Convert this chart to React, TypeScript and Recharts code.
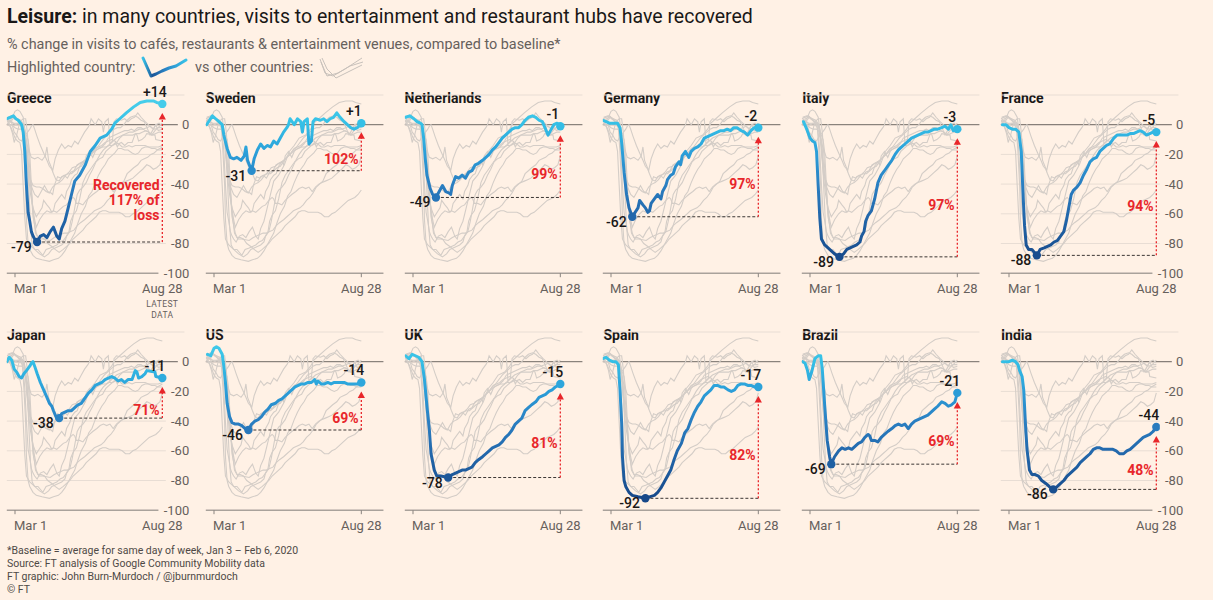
import React from 'react';
import { LineChart, Line, XAxis, YAxis, CartesianGrid, ReferenceLine, ReferenceDot } from 'recharts';

// ---------------- DATA ----------------
// day offsets from Mar 1, 2020; values = % change vs baseline
const greece: [number, number][] = [[-10,4],[-6,5],[-2,6],[1,4],[4,3],[8,0],[10,-5],[12,-18],[14,-41],[16,-59],[18,-65],[20,-72],[22,-75],[24,-77],[27,-79],[31,-75],[35,-74],[39,-76],[43,-72],[47,-69],[49,-72],[51,-75],[54,-77],[57,-70],[61,-65],[65,-56],[69,-47],[73,-38],[79,-34],[86,-27],[92,-18],[98,-14],[104,-9],[112,-7],[118,-3],[122,1],[128,4],[136,8],[145,12],[153,15],[161,16],[169,16],[173,15],[180,14]];
const sweden: [number, number][] = [[-9,0],[-2,6],[2,4],[6,2],[10,0],[12,-7],[16,-16],[20,-22],[24,-23],[28,-22],[33,-24],[37,-21],[39,-15],[41,-24],[46,-31],[49,-23],[53,-17],[57,-13],[61,-16],[65,-14],[69,-15],[73,-11],[77,-13],[81,-9],[85,-5],[89,-2],[91,0],[93,4],[98,0],[102,4],[106,2],[108,-5],[110,2],[114,4],[116,-13],[119,-11],[121,2],[124,4],[130,3],[134,4],[138,2],[142,4],[146,5],[150,8],[154,5],[159,2],[163,0],[167,-2],[171,-3],[175,-2],[180,1]];
const netherlands: [number, number][] = [[-9,5],[-4,6],[1,4],[5,2],[9,1],[11,0],[13,-9],[15,-23],[17,-34],[21,-43],[24,-47],[28,-49],[32,-45],[36,-41],[40,-45],[44,-46],[46,-47],[48,-41],[52,-35],[56,-36],[60,-34],[64,-36],[68,-32],[72,-31],[76,-27],[80,-26],[85,-24],[89,-22],[93,-20],[97,-17],[101,-15],[105,-12],[109,-9],[113,-7],[117,-5],[121,-3],[125,-2],[129,-2],[133,0],[137,3],[141,5],[146,6],[150,5],[154,3],[158,2],[162,-3],[165,-7],[168,-4],[172,0],[176,1],[180,-1]];
const germany: [number, number][] = [[-10,3],[-6,2],[-2,1],[4,1],[8,1],[11,-2],[13,-12],[16,-32],[19,-47],[22,-56],[26,-62],[33,-56],[35,-51],[39,-54],[42,-56],[45,-59],[47,-58],[49,-53],[53,-50],[57,-47],[61,-50],[63,-45],[67,-41],[69,-37],[73,-34],[76,-33],[79,-28],[83,-25],[85,-27],[87,-21],[91,-18],[95,-22],[98,-18],[102,-16],[106,-15],[110,-13],[114,-9],[118,-8],[122,-7],[126,-6],[130,-5],[134,-4],[138,-4],[142,-3],[146,-4],[150,-2],[154,-2],[159,-4],[163,-5],[167,-7],[171,-4],[175,-2],[180,-2]];
const italy: [number, number][] = [[-8,2],[-4,-3],[0,-9],[3,-11],[6,-12],[8,-18],[10,-41],[12,-63],[14,-77],[18,-81],[22,-83],[26,-85],[30,-87],[36,-89],[41,-87],[45,-84],[49,-83],[53,-82],[57,-81],[61,-79],[63,-75],[66,-72],[68,-65],[71,-61],[75,-58],[79,-50],[83,-39],[87,-34],[91,-31],[96,-27],[100,-24],[104,-20],[108,-17],[112,-15],[116,-13],[120,-11],[124,-9],[128,-8],[132,-7],[136,-6],[140,-5],[144,-5],[148,-4],[152,-3],[156,-3],[161,-2],[165,-1],[169,-3],[172,0],[175,-4],[180,-3]];
const france: [number, number][] = [[-8,0],[-4,0],[0,-2],[4,-3],[8,-3],[12,-5],[15,-18],[17,-45],[19,-68],[21,-81],[24,-84],[28,-84],[34,-88],[38,-84],[43,-83],[47,-82],[51,-81],[55,-79],[59,-78],[63,-75],[67,-72],[70,-65],[73,-56],[76,-47],[79,-44],[83,-42],[87,-39],[91,-34],[95,-30],[99,-25],[103,-23],[107,-22],[111,-18],[115,-16],[119,-14],[123,-13],[128,-9],[132,-7],[136,-7],[140,-7],[144,-7],[148,-6],[152,-6],[156,-5],[160,-4],[164,-5],[168,-7],[172,-6],[176,-5],[180,-5]];
const japan: [number, number][] = [[-10,0],[-7,3],[-4,1],[-1,-5],[2,-7],[5,-10],[8,-11],[11,-8],[14,-6],[18,-3],[20,-1],[22,0],[24,-3],[27,-8],[31,-14],[35,-19],[39,-24],[42,-28],[45,-30],[47,-33],[50,-37],[54,-38],[57,-35],[61,-34],[65,-33],[69,-33],[73,-31],[77,-29],[81,-28],[86,-24],[90,-21],[94,-19],[98,-16],[102,-15],[106,-14],[110,-12],[114,-11],[118,-10],[122,-11],[126,-13],[130,-12],[134,-14],[138,-12],[143,-12],[147,-6],[149,-7],[151,-11],[155,-10],[159,-8],[161,-6],[171,-7],[172,-10],[180,-11]];
const us: [number, number][] = [[-8,5],[-4,4],[0,9],[3,10],[6,9],[10,5],[12,-3],[14,-14],[16,-28],[19,-37],[22,-41],[26,-42],[30,-42],[34,-43],[38,-45],[42,-46],[46,-42],[50,-40],[54,-39],[58,-37],[62,-34],[66,-32],[70,-29],[75,-28],[79,-26],[83,-25],[87,-23],[91,-21],[95,-19],[99,-17],[103,-16],[107,-15],[111,-15],[115,-14],[119,-14],[123,-12],[125,-15],[127,-13],[131,-15],[135,-15],[139,-14],[143,-15],[147,-14],[151,-14],[155,-14],[159,-14],[163,-15],[167,-15],[171,-15],[175,-15],[180,-14]];
const uk: [number, number][] = [[-9,4],[-5,2],[-1,5],[3,4],[7,3],[11,0],[14,-12],[17,-30],[20,-46],[22,-62],[26,-73],[29,-77],[34,-77],[43,-78],[48,-76],[52,-75],[56,-74],[60,-73],[64,-73],[68,-72],[72,-71],[76,-68],[80,-66],[85,-64],[89,-62],[93,-60],[97,-58],[101,-57],[105,-56],[109,-54],[113,-51],[117,-49],[121,-46],[125,-42],[129,-40],[133,-38],[137,-33],[141,-31],[145,-29],[150,-27],[154,-24],[158,-23],[162,-22],[166,-20],[170,-19],[174,-17],[180,-15]];
const spain: [number, number][] = [[-10,2],[-6,3],[-2,1],[2,0],[6,0],[9,-2],[11,-19],[13,-41],[14,-64],[16,-80],[18,-84],[22,-88],[26,-90],[33,-91],[42,-92],[47,-91],[53,-90],[57,-88],[61,-85],[65,-81],[69,-77],[73,-73],[77,-66],[81,-60],[86,-55],[90,-48],[94,-45],[98,-39],[102,-34],[106,-30],[110,-27],[114,-23],[118,-21],[122,-19],[126,-16],[130,-16],[134,-17],[138,-17],[143,-19],[147,-20],[151,-19],[155,-16],[159,-15],[163,-15],[167,-16],[171,-16],[175,-17],[180,-17]];
const brazil: [number, number][] = [[-9,0],[-6,-1],[-3,-6],[-1,-12],[2,-7],[6,2],[10,4],[13,4],[15,-5],[18,-30],[21,-53],[24,-64],[26,-69],[30,-64],[35,-60],[39,-58],[43,-59],[47,-58],[51,-59],[55,-57],[59,-55],[63,-54],[67,-51],[71,-49],[73,-50],[75,-53],[79,-53],[83,-54],[87,-51],[91,-49],[95,-47],[100,-45],[104,-43],[108,-42],[112,-43],[116,-42],[120,-45],[124,-42],[128,-40],[132,-39],[136,-38],[140,-37],[144,-36],[148,-34],[152,-32],[156,-30],[161,-27],[165,-28],[169,-30],[173,-29],[177,-27],[180,-21]];
const india: [number, number][] = [[-8,0],[-4,0],[0,0],[4,1],[8,0],[11,-2],[13,-6],[16,-10],[18,-19],[20,-41],[22,-59],[25,-73],[28,-76],[32,-76],[36,-77],[40,-80],[45,-82],[49,-84],[54,-86],[59,-84],[63,-82],[67,-80],[71,-77],[75,-75],[79,-73],[83,-71],[87,-68],[91,-66],[95,-64],[99,-62],[103,-59],[107,-58],[111,-58],[115,-59],[119,-59],[123,-59],[127,-59],[131,-60],[135,-62],[140,-62],[144,-60],[148,-59],[152,-57],[156,-55],[160,-53],[164,-51],[168,-50],[172,-49],[176,-47],[180,-44]];

const COUNTRIES = ['Greece', 'Sweden', 'Netherlands', 'Germany', 'Italy', 'France', 'Japan', 'US', 'UK', 'Spain', 'Brazil', 'India'];
const SERIES = [greece, sweden, netherlands, germany, italy, france, japan, us, uk, spain, brazil, india];
const LOWS = [-79, -31, -49, -62, -89, -88, -38, -46, -78, -92, -69, -86];
const LATEST = [14, 1, -1, -2, -3, -5, -11, -14, -15, -17, -21, -44];
const RECOVERED = [117, 102, 99, 97, 97, 94, 71, 69, 81, 82, 69, 48];
const X_TICKS = [0, 180];
const X_TICK_LABELS = ['Mar 1', 'Aug 28'];
const Y_TICKS = [0, -20, -40, -60, -80, -100];
const LABELLED_PANELS = [0, 5, 6, 11];

// ---------------- STYLE / LAYOUT ----------------
const FONT = 'Roboto, "Noto Sans", sans-serif';
const BG = '#fff1e5';
const RED = '#e8262a';
const INK = '#1a1817';
const GREY_TEXT = '#66605c';
const PANEL_STEP = 198.8;
const UNIT = 1.485;
const DAY = 0.8185;
const X_DOMAIN: [number, number] = [-10, 207];
const Y_DOMAIN: [number, number] = [-100, 20];
const M_TOP = 24;
const X_AXIS_H = 50;
const CHART_W = 200;
const M_LEFT = 15 + X_DOMAIN[0] * DAY;
const PLOT_W = (X_DOMAIN[1] - X_DOMAIN[0]) * DAY;
const Y_AXIS_W = 1;
const M_RIGHT = CHART_W - M_LEFT - PLOT_W - Y_AXIS_W;
const PLOT_H = (Y_DOMAIN[1] - Y_DOMAIN[0]) * UNIT;
const CHART_H = M_TOP + PLOT_H + X_AXIS_H;
const ZERO_Y = [124.3, 361.3];

const STOPS: [number, string][] = [[15, '#46cdea'], [0, '#34bfe6'], [-20, '#2b9dd8'], [-40, '#2a7fc2'], [-60, '#2369ad'], [-80, '#1b5597'], [-95, '#164586']];

function mix(a: string, b: string, t: number) {
  const pa = [1, 3, 5].map((k) => parseInt(a.slice(k, k + 2), 16));
  const pb = [1, 3, 5].map((k) => parseInt(b.slice(k, k + 2), 16));
  return '#' + pa.map((v, j) => Math.round(v + (pb[j] - v) * t).toString(16).padStart(2, '0')).join('');
}
function colorAt(v: number) {
  for (let k = 0; k < STOPS.length - 1; k++) {
    const [v0, c0] = STOPS[k];
    const [v1, c1] = STOPS[k + 1];
    if (v <= v0 && v >= v1) return mix(c0, c1, (v0 - v) / (v0 - v1));
  }
  return v > STOPS[0][0] ? STOPS[0][1] : STOPS[STOPS.length - 1][1];
}

const ALL_DAYS = Array.from(new Set(SERIES.flatMap((s) => s.map((p) => p[0])))).sort((a, b) => a - b);
const TABLE = ALL_DAYS.map((d) => {
  const row: Record<string, number | null> = { d };
  SERIES.forEach((s, i) => {
    const p = s.find((q) => q[0] === d);
    row['c' + i] = p ? p[1] : null;
  });
  return row;
});

function fmt(v: number) {
  return v > 0 ? `+${v}` : `${v}`;
}

function renderXTick(p: any, latestNote: boolean) {
  const idx = X_TICKS.indexOf(p.payload.value);
  const first = idx === 0;
  return (
    <g>
      <text x={first ? p.x - 1 : p.x} y={p.y + 13.7} textAnchor={first ? 'start' : 'middle'} fontSize={13} fill={GREY_TEXT} fontFamily={FONT}>
        {X_TICK_LABELS[idx]}
      </text>
      {latestNote && !first && (
        <g>
          <text x={p.x} y={p.y + 27.7} textAnchor="middle" fontSize={8.5} letterSpacing={0.4} fill={GREY_TEXT} fontFamily={FONT}>LATEST</text>
          <text x={p.x} y={p.y + 38.7} textAnchor="middle" fontSize={8.5} letterSpacing={0.4} fill={GREY_TEXT} fontFamily={FONT}>DATA</text>
        </g>
      )}
    </g>
  );
}

function renderYTick(p: any) {
  const label = String(p.payload.value);
  const digits = label.replace('-', '').length;
  const w = digits * 7.4 + (label.startsWith('-') ? 4.6 : 0);
  const right = p.x + 4.8;
  return (
    <g>
      <rect x={right - w - 4} y={p.y - 8} width={w + 5} height={16} fill={BG} />
      <text x={right} y={p.y} dy={4.6} textAnchor="end" fontSize={13} fill={GREY_TEXT} fontFamily={FONT}>{label}</text>
    </g>
  );
}

function Panel({ i }: { i: number }) {
  const row = i < 6 ? 0 : 1;
  const col = i % 6;
  const left = col * PANEL_STEP;
  const top = ZERO_Y[row] - Y_DOMAIN[1] * UNIT - M_TOP;
  const series = SERIES[i];
  const low = LOWS[i];
  const lowDay = (series.find((p) => p[1] === low) as [number, number])[0];
  const latest = LATEST[i];
  const lastDay = series[series.length - 1][0];
  const yPix = (v: number) => M_TOP + (Y_DOMAIN[1] - v) * UNIT;
  const gid = `hl-grad-${i}`;
  const showY = LABELLED_PANELS.includes(i);
  const pctLines = i === 0 ? ['Recovered', `${RECOVERED[i]}% of`, 'loss'] : [`${RECOVERED[i]}%`];

  return (
    <div style={{ position: 'absolute', left, top, width: CHART_W, height: CHART_H }}>
      <LineChart width={CHART_W} height={CHART_H} data={TABLE} margin={{ top: M_TOP, right: M_RIGHT, bottom: 0, left: M_LEFT }}>
        <defs>
          <linearGradient id={gid} gradientUnits="userSpaceOnUse" x1="0" x2="0" y1={yPix(15)} y2={yPix(-95)}>
            {STOPS.map(([v, c]) => (
              <stop key={v} offset={(15 - v) / 110} stopColor={c} />
            ))}
          </linearGradient>
        </defs>
        <CartesianGrid vertical={false} stroke="#e8ddd4" strokeWidth={1} />
        <XAxis
          dataKey="d"
          type="number"
          domain={X_DOMAIN}
          ticks={X_TICKS}
          interval={0}
          height={X_AXIS_H}
          tickSize={4}
          tickMargin={2}
          axisLine={{ stroke: '#8a847f' }}
          tickLine={{ stroke: '#8a847f' }}
          tick={(p: any) => renderXTick(p, i === 0)}
          allowDataOverflow
        />
        <YAxis
          type="number"
          orientation="right"
          domain={Y_DOMAIN}
          ticks={Y_TICKS}
          interval={0}
          width={Y_AXIS_W}
          axisLine={false}
          tickLine={false}
          tickSize={0}
          tickMargin={0}
          tick={showY ? renderYTick : false}
          allowDataOverflow
        />
        <ReferenceLine y={0} stroke="#6e6863" strokeWidth={1} zIndex={-10} />
        {SERIES.map((_, j) =>
          j === i ? null : (
            <Line
              key={j}
              dataKey={'c' + j}
              stroke="#d4cdc7"
              strokeWidth={1.1}
              dot={false}
              activeDot={false}
              connectNulls
              isAnimationActive={false}
            />
          )
        )}
        <ReferenceLine
          segment={[{ x: lowDay, y: low }, { x: lastDay, y: low }]}
          stroke="#3a3532"
          strokeWidth={1}
          strokeDasharray="3 2"
          zIndex={450}
        />
        <Line
          dataKey={'c' + i}
          stroke={`url(#${gid})`}
          strokeWidth={3}
          strokeLinejoin="round"
          strokeLinecap="round"
          dot={false}
          activeDot={false}
          connectNulls
          isAnimationActive={false}
        />
        <ReferenceLine
          segment={[{ x: lastDay, y: low }, { x: lastDay, y: latest }]}
          zIndex={460}
          shape={(p: any) => {
            const x = p.x1;
            const yLow = Math.max(p.y1, p.y2);
            const yTop = Math.min(p.y1, p.y2);
            const tip = yTop + 9;
            const labelY = (yLow + yTop) / 2 + 12;
            return (
              <g>
                <line x1={x} x2={x} y1={yLow} y2={tip + 5} stroke={RED} strokeWidth={1.3} strokeDasharray="2 2" />
                <polygon points={`${x},${tip} ${x - 3.6},${tip + 6.5} ${x + 3.6},${tip + 6.5}`} fill={RED} />
                {pctLines.map((t, k) => (
                  <text key={k} x={x - 2.8} y={labelY + 5 + k * 15} textAnchor="end" fontSize={14} fontWeight={700} fill={RED} fontFamily={FONT}>
                    {t}
                  </text>
                ))}
              </g>
            );
          }}
        />
        <ReferenceDot
          x={lowDay}
          y={low}
          zIndex={700}
          shape={(p: any) => (
            <g>
              <circle cx={p.cx} cy={p.cy} r={4.2} fill={colorAt(low)} />
              <text x={p.cx - 5.5} y={p.cy + 10} textAnchor="end" fontSize={14} fontWeight={500} fill={INK} fontFamily={FONT}>
                {fmt(low)}
              </text>
            </g>
          )}
        />
        <ReferenceDot
          x={lastDay}
          y={latest}
          zIndex={700}
          shape={(p: any) => (
            <g>
              <circle cx={p.cx} cy={p.cy} r={4.2} fill={colorAt(latest)} />
              <text x={p.cx - 7.5} y={p.cy - 7} textAnchor="middle" fontSize={14} fontWeight={500} fill={INK} fontFamily={FONT}>
                {fmt(latest)}
              </text>
            </g>
          )}
        />
      </LineChart>
    </div>
  );
}

export default function App() {
  const text = (style: React.CSSProperties, children: React.ReactNode, key?: string) => (
    <div key={key} style={{ position: 'absolute', whiteSpace: 'nowrap', ...style }}>{children}</div>
  );
  return (
    <div style={{ position: 'absolute', left: 0, top: 0, width: 1213, height: 600, background: BG, fontFamily: FONT, overflow: 'hidden' }}>
      {text({ left: 7, top: 6, fontSize: 19.5, lineHeight: '22px', color: INK }, <><b>Leisure:</b> in many countries, visits to entertainment and restaurant hubs have recovered</>)}
      {text({ left: 7, top: 37, fontSize: 14.4, lineHeight: '16px', color: GREY_TEXT }, '% change in visits to cafés, restaurants & entertainment venues, compared to baseline*')}
      {text({ left: 7, top: 60, fontSize: 14.4, lineHeight: '16px', color: GREY_TEXT }, 'Highlighted country:')}
      <svg style={{ position: 'absolute', left: 140, top: 54 }} width={50} height={28}>
        <defs>
          <linearGradient id="legend-grad" x1="0" x2="1" y1="0" y2="0">
            <stop offset="0" stopColor="#38c2e8" />
            <stop offset="0.22" stopColor="#1c5597" />
            <stop offset="0.55" stopColor="#2a88c9" />
            <stop offset="1" stopColor="#38c2e8" />
          </linearGradient>
        </defs>
        <path d="M3,4 L7,13 L11,22 L16,20 L22,17 L29,14 L36,12 L41,9 L46,6" fill="none" stroke="url(#legend-grad)" strokeWidth={3} strokeLinejoin="round" strokeLinecap="round" />
      </svg>
      {text({ left: 195, top: 60, fontSize: 14.4, lineHeight: '16px', color: GREY_TEXT }, 'vs other countries:')}
      <svg style={{ position: 'absolute', left: 318, top: 54 }} width={48} height={28}>
        <path d="M2,5 L7,19 L15,22 L27,15 L44,4" fill="none" stroke="#c8c1bb" strokeWidth={1} />
        <path d="M3,8 L9,22 L20,19 L32,12 L45,8" fill="none" stroke="#c8c1bb" strokeWidth={1} />
        <path d="M4,4 L9,15 L18,24 L30,18 L44,11" fill="none" stroke="#c8c1bb" strokeWidth={1} />
      </svg>
      {COUNTRIES.map((c, i) =>
        text(
          { left: (i % 6) * PANEL_STEP + 7, top: i < 6 ? 90.3 : 327.3, fontSize: 14, lineHeight: '16px', fontWeight: 700, color: INK },
          c,
          't' + i
        )
      )}
      {COUNTRIES.map((c, i) => (
        <Panel key={c} i={i} />
      ))}
      {text({ left: 7, top: 543.5, fontSize: 10.5, lineHeight: '13px', color: '#4e4946' }, (
        <>
          <div>*Baseline = average for same day of week, Jan 3 – Feb 6, 2020</div>
          <div>Source: FT analysis of Google Community Mobility data</div>
          <div>FT graphic: John Burn-Murdoch / @jburnmurdoch</div>
          <div>© FT</div>
        </>
      ))}
    </div>
  );
}
